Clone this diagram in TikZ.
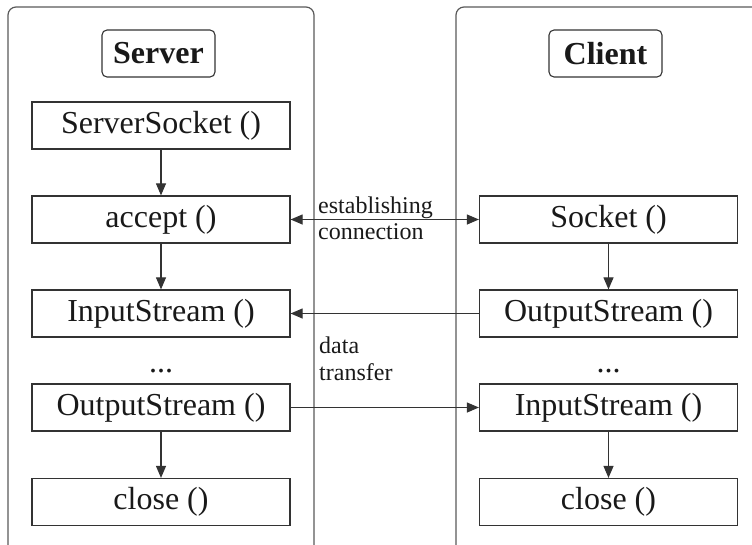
\documentclass[tikz,border=0pt]{standalone}
\usepackage{fontspec}
\setmainfont{Liberation Serif}
\usetikzlibrary{arrows.meta}
\begin{document}
\begin{tikzpicture}[x=1pt,y=-1pt,
  mbox/.style={draw=black!80, line width=1.2pt, minimum width=258pt, minimum height=47pt, inner sep=0pt, font=\fontsize{32}{38}\selectfont, text=black!90},
  titlebox/.style={draw=black!80, rounded corners=5pt, line width=1.1pt, minimum width=113pt, minimum height=47pt, inner sep=0pt, font=\fontsize{32}{38}\selectfont\bfseries, text=black!90},
  lbl/.style={font=\fontsize{24}{28}\selectfont, anchor=base west, inner sep=0pt, text=black!90},
  dots/.style={font=\fontsize{32}{38}\selectfont, anchor=base, inner sep=0pt, text=black!90},
  arr/.style={-{Triangle[length=12pt,width=10pt]}, line width=1.1pt, draw=black!80},
  frame/.style={rounded corners=8pt, draw=black!65, line width=1.2pt}]
\useasboundingbox (0,0) rectangle (752,544);
\begin{scope}
  \clip (0,0) rectangle (752,544);
  \draw[frame] (8,620) -- (8,7) -- (314,7) -- (314,620);
  \draw[frame] (456,620) -- (456,7) -- (820,7) -- (820,620);
\end{scope}
% server column
\node[titlebox] (st) at (158.5,53.5) {Server};
\node[mbox] (ss) at (161,125.5) {ServerSocket ()};
\node[mbox] (sacc) at (161,219.5) {accept ()};
\node[mbox] (sin) at (161,313.5) {InputStream ()};
\node[dots] (sd) at (161,372) {...};
\node[mbox] (sout) at (161,407.5) {OutputStream ()};
\node[mbox] (scl) at (161,502) {close ()};
% client column
\node[titlebox] (ct) at (605.5,53.5) {Client};
\node[mbox] (csock) at (608.5,219.5) {Socket ()};
\node[mbox] (cout) at (608.5,313.5) {OutputStream ()};
\node[dots] (cd) at (608.5,372) {...};
\node[mbox] (cin) at (608.5,407.5) {InputStream ()};
\node[mbox] (ccl) at (608.5,502) {close ()};
% vertical arrows
\draw[arr] (ss) -- (sacc);
\draw[arr] (sacc) -- (sin);
\draw[arr] (sout) -- (scl);
\draw[arr] (csock) -- (cout);
\draw[arr] (cin) -- (ccl);
% horizontal arrows
\draw[arr, {Triangle[length=12pt,width=10pt]}-{Triangle[length=12pt,width=10pt]}] (sacc) -- (csock);
\draw[arr] (cout) -- (sin);
\draw[arr] (sout) -- (cin);
% labels
\node[lbl] (l1) at (318,213) {establishing};
\node[lbl] (l2) at (318,239) {connection};
\node[lbl] (l3) at (319,353) {data};
\node[lbl] (l4) at (319,380) {transfer};
\end{tikzpicture}
\end{document}
